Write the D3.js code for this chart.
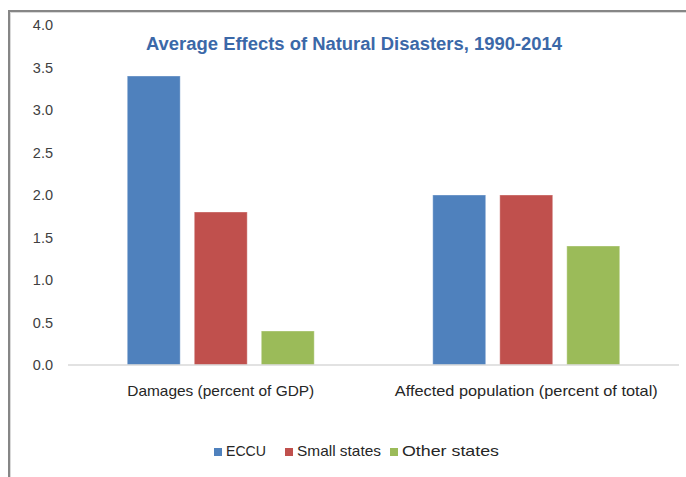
<!DOCTYPE html>
<html>
<head>
<meta charset="utf-8">
<script src="https://cdn.jsdelivr.net/npm/d3@7"></script>
<style>
  html, body { margin: 0; padding: 0; background: #fff; }
  svg { display: block; }
  text { font-family: "Liberation Sans", Arial, sans-serif; }
</style>
</head>
<body>
<svg id="chart" width="686" height="477"></svg>
<script>
// Average effects of natural disasters, 1990-2014
const categories = ["Damages (percent of GDP)", "Affected population (percent of total)"];
const seriesNames = ["ECCU", "Small states", "Other states"];
const eccu = [3.4, 2.0];
const smallStates = [1.8, 2.0];
const otherStates = [0.4, 1.4];
const yTicks = [0, 0.5, 1.0, 1.5, 2.0, 2.5, 3.0, 3.5, 4.0];
const colors = ["#4F81BD", "#C0504D", "#9BBB59"];
const titleText = "Average Effects of Natural Disasters, 1990-2014";

const seriesValues = [eccu, smallStates, otherStates];
const rows = categories.map((c, i) => ({
  category: c,
  values: seriesNames.map((s, j) => ({ series: s, value: seriesValues[j][i] }))
}));

const svg = d3.select("#chart");

// outer frame of the chart area
svg.append("line").attr("x1", 8).attr("x2", 686).attr("y1", 11).attr("y2", 11)
  .attr("stroke", "#868686").attr("stroke-width", 2);
svg.append("line").attr("x1", 9).attr("x2", 686).attr("y1", 12.5).attr("y2", 12.5)
  .attr("stroke", "#d9d9d9").attr("stroke-width", 1);
svg.append("line").attr("x1", 9).attr("x2", 9).attr("y1", 10).attr("y2", 477)
  .attr("stroke", "#868686").attr("stroke-width", 2);
svg.append("line").attr("x1", 10.5).attr("x2", 10.5).attr("y1", 12).attr("y2", 477)
  .attr("stroke", "#d9d9d9").attr("stroke-width", 1);

const plot = { left: 68, right: 679, top: 25, bottom: 365 };

const y = d3.scaleLinear().domain([0, 4]).range([plot.bottom, plot.top]);
const x0 = d3.scaleBand().domain(categories).range([plot.left, plot.right])
  .paddingInner(0.388).paddingOuter(0.194);
const x1 = d3.scaleBand().domain(seriesNames).range([0, x0.bandwidth()])
  .paddingInner(0.21).paddingOuter(0);
const color = d3.scaleOrdinal().domain(seriesNames).range(colors);

// y axis labels
const yAxis = d3.axisLeft(y).tickValues(yTicks).tickFormat(d3.format(".1f")).tickSize(0).tickPadding(0);
const yg = svg.append("g").attr("transform", `translate(53,0)`).call(yAxis);
yg.select(".domain").remove();
yg.selectAll("text").attr("font-size", 14.5).attr("fill", "#404040")
  .attr("font-family", "'Liberation Sans', Arial, sans-serif");

// bars
const groups = svg.append("g").selectAll("g").data(rows).join("g")
  .attr("transform", d => `translate(${x0(d.category)},0)`);
groups.selectAll("rect").data(d => d.values).join("rect")
  .attr("x", d => x1(d.series))
  .attr("y", d => y(d.value))
  .attr("width", x1.bandwidth())
  .attr("height", d => y(0) - y(d.value))
  .attr("fill", d => color(d.series))
  .attr("stroke", "rgba(255,255,255,0.35)")
  .attr("stroke-width", 1);

// baseline
svg.append("line").attr("x1", plot.left).attr("x2", plot.right)
  .attr("y1", y(0)).attr("y2", y(0))
  .attr("stroke", "#d9d9d9").attr("stroke-width", 1.5);

// category labels
const xAxis = d3.axisBottom(x0).tickSize(0).tickPadding(0);
const xg = svg.append("g").attr("transform", `translate(0,${y(0) + 27})`).call(xAxis);
xg.select(".domain").remove();
xg.selectAll("text").attr("font-size", 14.5).attr("fill", "#262626")
  .attr("dy", null).attr("dominant-baseline", "middle")
  .attr("font-family", "'Liberation Sans', Arial, sans-serif")
  .attr("textLength", (d, i) => [187, 263][i]).attr("lengthAdjust", "spacingAndGlyphs");

// title
svg.append("text").attr("x", 354).attr("y", 50).attr("text-anchor", "middle")
  .attr("font-size", 17.5).attr("font-weight", "bold").attr("fill", "#3B68A8")
  .attr("textLength", 416).attr("lengthAdjust", "spacingAndGlyphs")
  .text(titleText);

// legend
const legendItems = [
  { name: "ECCU", x: 214, w: 40 },
  { name: "Small states", x: 285, w: 84 },
  { name: "Other states", x: 390, w: 97 }
];
const lg = svg.append("g").selectAll("g").data(legendItems).join("g")
  .attr("transform", d => `translate(${d.x},452)`);
lg.append("rect").attr("x", 0).attr("y", -4).attr("width", 8).attr("height", 8)
  .attr("fill", d => color(d.name));
lg.append("text").attr("x", 12).attr("y", 0).attr("dominant-baseline", "middle")
  .attr("font-size", 14.5).attr("fill", "#262626")
  .attr("textLength", d => d.w).attr("lengthAdjust", "spacingAndGlyphs")
  .text(d => d.name);
</script>
</body>
</html>
